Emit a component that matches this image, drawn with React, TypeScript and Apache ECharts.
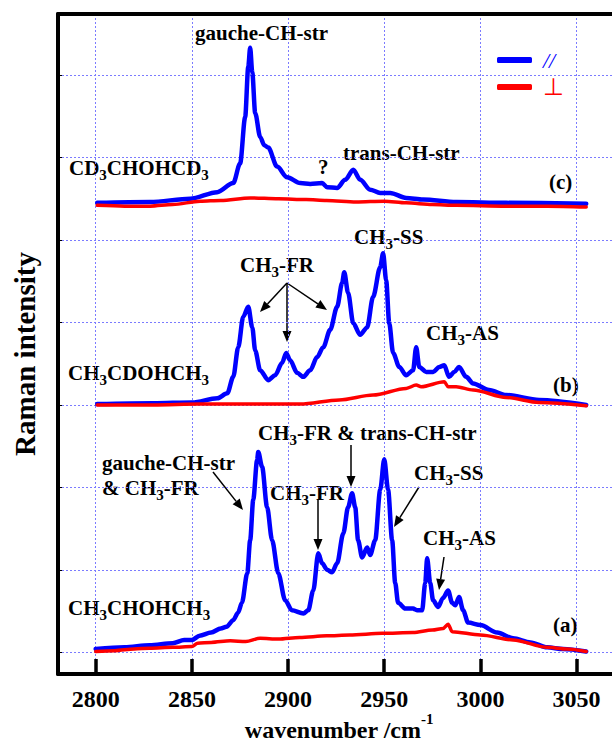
import React, { useEffect, useRef } from "react";
import * as echarts from "echarts";

const X_TICKS = [2800, 2850, 2900, 2950, 3000, 3050];
const Y_GRID = [0, 1, 2, 3, 4, 5, 6, 7];

// (a) CH3CHOHCH3, parallel / perpendicular
const A_PAR = [[2800,0.04],[2815,0.06],[2828,0.085],[2840,0.11],[2846,0.15],[2850,0.15],[2854,0.2],[2860,0.24],[2865,0.29],[2868,0.31],[2871.5,0.39],[2874,0.48],[2876,0.6],[2878.8,0.96],[2880.3,1.36],[2881.9,1.85],[2883.9,2.33],[2884.5,2.43],[2886.5,2.25],[2889.1,1.76],[2891.7,1.36],[2894.9,0.96],[2898.5,0.63],[2902,0.51],[2908,0.47],[2910.5,0.51],[2913.1,0.75],[2915.7,1.2],[2917.7,1.08],[2920.3,1.0],[2922.9,0.97],[2925.5,1.08],[2928.7,1.44],[2931.2,1.76],[2933.3,1.93],[2934.9,1.76],[2936.4,1.36],[2938.5,1.15],[2941.1,1.27],[2942.7,1.18],[2945.3,1.36],[2947.9,1.97],[2950,2.34],[2952,1.97],[2954.1,1.36],[2955.7,0.84],[2957.2,0.6],[2961,0.53],[2965,0.53],[2967,0.51],[2969.7,0.51],[2971.3,0.84],[2972.3,1.14],[2973.9,0.84],[2975.4,0.63],[2978,0.55],[2980.6,0.66],[2983.2,0.75],[2985.3,0.6],[2986.9,0.57],[2988.9,0.67],[2991,0.51],[2993.6,0.36],[3000,0.33],[3008.7,0.24],[3017,0.17],[3026,0.12],[3034.7,0.06],[3043,0.04],[3055,0.01]];
const A_PERP = [[2800,0.01],[2810,0.02],[2820,0.04],[2828,0.05],[2840,0.06],[2850,0.07],[2853,0.11],[2860,0.12],[2870,0.14],[2878,0.13],[2885.5,0.17],[2895,0.16],[2906,0.18],[2920,0.2],[2932,0.21],[2949,0.23],[2965,0.24],[2975,0.27],[2980.6,0.29],[2983.2,0.34],[2985.3,0.25],[3000,0.21],[3017,0.15],[3034.7,0.06],[3045,0.04],[3055,0.01]];

// (b) CH3CDOHCH3
const B_PAR = [[2800.8,3.01],[2830,3.02],[2850.2,3.03],[2863.2,3.08],[2868.4,3.14],[2871.5,3.34],[2874.1,3.7],[2876.7,4.07],[2879.3,4.19],[2881.4,3.94],[2882.9,3.66],[2885.5,3.42],[2889.7,3.3],[2893.3,3.36],[2896.9,3.51],[2899,3.63],[2901.1,3.54],[2904.7,3.39],[2907.9,3.34],[2911.5,3.42],[2915.1,3.58],[2918.3,3.7],[2921.9,3.91],[2925.5,4.19],[2928.1,4.48],[2929.2,4.61],[2931.2,4.36],[2933.9,3.99],[2937.5,3.85],[2941.1,3.94],[2944.2,4.31],[2947.9,4.67],[2949.4,4.84],[2951,4.51],[2952.6,3.99],[2954.6,3.63],[2957.8,3.46],[2961.4,3.36],[2965,3.42],[2966.6,3.7],[2968.2,3.46],[2971.8,3.4],[2975.4,3.4],[2978.6,3.46],[2981.2,3.48],[2983.7,3.34],[2986.4,3.4],[2988.9,3.46],[2992.6,3.34],[2996.2,3.26],[3004.5,3.18],[3013.4,3.12],[3030.5,3.06],[3055,3.0]];
const B_PERP = [[2800.8,3.0],[2830,3.0],[2854,3.01],[2880,3.01],[2906.3,3.01],[2926.6,3.06],[2944.2,3.12],[2961.4,3.2],[2966.6,3.24],[2969.2,3.22],[2981.2,3.28],[2983.2,3.22],[2987.4,3.22],[2996.2,3.18],[3013.4,3.09],[3030.5,3.03],[3055,2.99]];

// (c) CD3CHOHCD3
const C_PAR = [[2800.8,5.45],[2828.3,5.46],[2849.1,5.5],[2863.2,5.58],[2871.5,5.69],[2875.1,5.93],[2877.7,6.49],[2879.3,7.1],[2880.3,7.33],[2881.4,7.03],[2882.9,6.54],[2885.5,6.25],[2887.6,6.15],[2889.7,6.12],[2894.3,5.89],[2899.5,5.76],[2906.3,5.69],[2911.5,5.68],[2917.7,5.69],[2920.3,5.64],[2925.5,5.63],[2929.7,5.73],[2933.9,5.85],[2937.5,5.73],[2942.7,5.61],[2947.9,5.57],[2953.1,5.57],[2961.4,5.51],[2970.2,5.49],[2987.4,5.46],[3013.4,5.45],[3055,5.44]];
const C_PERP = [[2800.8,5.42],[2815,5.41],[2828.3,5.41],[2840,5.43],[2854.3,5.47],[2865,5.48],[2880.3,5.51],[2895,5.5],[2909.4,5.49],[2920,5.48],[2935.4,5.46],[2950,5.47],[2961.4,5.45],[2975,5.43],[2987.4,5.42],[3013.4,5.41],[3035,5.41],[3055,5.4]];

const BLUE = "#0000ff";
const RED = "#ff0000";
const FONT = "Liberation Serif";
const MAIN_FONT = `bold 21px ${FONT}`;
const SUB_FONT = `bold 15px ${FONT}`;

let measureCtx: CanvasRenderingContext2D | null = null;
function measure(text: string, font: string) {
  if (!measureCtx) measureCtx = document.createElement("canvas").getContext("2d");
  if (!measureCtx) return text.length * 10;
  measureCtx.font = font;
  return measureCtx.measureText(text).width;
}

// "CH_3-FR": digits after "_" are subscripts
function label(src: string, x0: number, capY: number) {
  const parts = src.split(/_(\d)/);
  const els: any[] = [];
  let x = x0;
  parts.forEach((t, i) => {
    if (!t) return;
    const sub = i % 2 === 1;
    const font = sub ? SUB_FONT : MAIN_FONT;
    els.push({
      type: "text",
      x,
      y: capY + (sub ? 7 : 0),
      style: { text: t, font, fill: "#000", align: "left", verticalAlign: "middle" },
    });
    x += measure(t, font);
  });
  return els;
}

function arrow(x1: number, y1: number, x2: number, y2: number) {
  const a = Math.atan2(y2 - y1, x2 - x1);
  const L = 11, W = 4.5;
  const c = Math.cos(a), s = Math.sin(a);
  const bx = x2 - L * c, by = y2 - L * s;
  return [
    { type: "line", shape: { x1, y1, x2: bx, y2: by }, style: { stroke: "#000", lineWidth: 1.5 } },
    { type: "polygon", shape: { points: [[x2, y2], [bx - W * s, by + W * c], [bx + W * s, by - W * c]] }, style: { fill: "#000" } },
  ];
}

export default function App() {
  const ref = useRef<HTMLDivElement>(null);
  useEffect(() => {
    const chart = echarts.init(ref.current!, null, { renderer: "svg" });
    const lineSeries = (name: string, data: number[][], color: string, width: number) => ({
      type: "line",
      name,
      data,
      showSymbol: false,
      smooth: 0.3,
      smoothMonotone: "x",
      itemStyle: { color },
      lineStyle: { color, width, cap: "round", join: "round" },
      silent: true,
    });
    const grid = { color: "#7b7bff", type: [2, 2], width: 1 };
    chart.setOption({
      animation: false,
      grid: { left: 58, right: 0, top: 14, bottom: 69 },
      legend: {
        orient: "vertical",
        left: 492,
        top: 44,
        itemWidth: 35,
        itemHeight: 6,
        itemGap: 4,
        icon: "roundRect",
        textStyle: { fontFamily: FONT, fontSize: 22, lineHeight: 22, padding: [0, 0, 0, 6] },
        data: [
          { name: "//", textStyle: { color: BLUE, fontStyle: "italic" } },
          { name: "⊥", textStyle: { color: RED, fontSize: 24 } },
        ],
      },
      xAxis: [
        {
          type: "value",
          min: 2780.4,
          max: 3068.4,
          axisLine: { onZero: false, lineStyle: { color: "#000", width: 4 } },
          axisTick: { inside: true, length: 15, customValues: X_TICKS, lineStyle: { color: "#000", width: 3.5 } },
          axisLabel: {
            customValues: X_TICKS,
            margin: 13,
            fontFamily: FONT,
            fontWeight: "bold",
            fontSize: 24,
            color: "#000",
            formatter: (v: number) => String(v),
          },
          splitLine: { show: true, lineStyle: grid },
        },
        {
          type: "value",
          position: "top",
          min: 2780.4,
          max: 3068.4,
          axisLine: { show: true, onZero: false, lineStyle: { color: "#000", width: 4 } },
          axisTick: { show: false },
          axisLabel: { show: false },
          splitLine: { show: false },
        },
      ],
      yAxis: {
        type: "value",
        min: -0.263,
        max: 7.74,
        axisLine: { show: true, onZero: false, lineStyle: { color: "#000", width: 4 } },
        axisTick: { show: true, inside: true, length: 4, customValues: Y_GRID, lineStyle: { color: "#000", width: 1 } },
        axisLabel: { show: false, customValues: Y_GRID },
        splitLine: { show: true, lineStyle: grid },
      },
      series: [
        lineSeries("//", A_PAR, BLUE, 4.5),
        lineSeries("//", B_PAR, BLUE, 4.5),
        lineSeries("//", C_PAR, BLUE, 4.5),
        lineSeries("⊥", A_PERP, RED, 3.5),
        lineSeries("⊥", B_PERP, RED, 3.5),
        lineSeries("⊥", C_PERP, RED, 3.5),
      ],
      graphic: [
        ...label("gauche-CH-str", 195, 33),
        ...label("CD_3CHOHCD_3", 69, 168),
        ...label("?", 318, 167),
        ...label("trans-CH-str", 343, 153),
        ...label("(c)", 549, 182),
        ...label("CH_3-SS", 354, 237),
        ...label("CH_3-FR", 240, 265),
        ...label("CH_3-AS", 426, 333),
        ...label("(b)", 553, 385),
        ...label("CH_3CDOHCH_3", 68, 373),
        ...label("CH_3-FR & trans-CH-str", 258, 433),
        ...label("gauche-CH-str", 102, 463),
        ...label("& CH_3-FR", 102, 488),
        ...label("CH_3-FR", 270, 493),
        ...label("CH_3-SS", 414, 473),
        ...label("CH_3-AS", 423, 538),
        ...label("(a)", 553, 625),
        ...label("CH_3CHOHCH_3", 68, 608),
        ...arrow(287, 283, 260, 312),
        ...arrow(287, 283, 287, 342),
        ...arrow(287, 283, 327, 310),
        ...arrow(213, 472, 243, 510),
        ...arrow(318, 500, 318, 550),
        ...arrow(351, 445, 351, 487),
        ...arrow(419, 487, 394, 527),
        ...arrow(444, 557, 439, 590),
        {
          type: "text",
          x: 421,
          y: 730,
          style: { text: "wavenumber /cm", align: "right", verticalAlign: "middle", font: `bold 24px ${FONT}`, fill: "#000" },
        },
        {
          type: "text",
          x: 421,
          y: 719,
          style: { text: "-1", align: "left", verticalAlign: "middle", font: `bold 15px ${FONT}`, fill: "#000" },
        },
        {
          type: "text",
          x: 25,
          y: 354,
          rotation: Math.PI / 2,
          style: { text: "Raman intensity", align: "center", verticalAlign: "middle", font: `bold 29px ${FONT}`, fill: "#000" },
        },
      ],
    });
    return () => chart.dispose();
  }, []);
  return <div ref={ref} style={{ position: "absolute", left: 0, top: 0, width: 612, height: 743 }} />;
}
